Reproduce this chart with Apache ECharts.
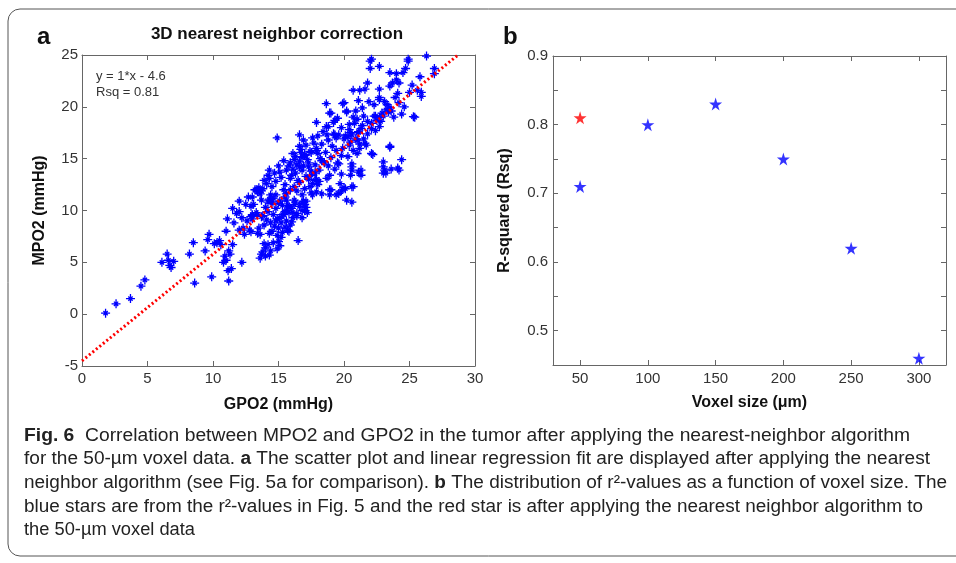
<!DOCTYPE html>
<html>
<head>
<meta charset="utf-8">
<script src="https://cdn.jsdelivr.net/npm/echarts@6/dist/echarts.min.js"></script>
<style>
html,body{margin:0;padding:0;background:#fff;}
#chart{width:956px;height:563px;}
</style>
</head>
<body>
<div id="chart"></div>
<script>
// ---------- DATA ----------
const panelATitle = '3D nearest neighbor correction';
const fitText = ['y = 1*x - 4.6', 'Rsq = 0.81'];
const gpoTicks = [0, 5, 10, 15, 20, 25, 30];
const mpoTicks = [-5, 0, 5, 10, 15, 20, 25];
// scatter points [GPO2, MPO2]
const scatterPoints = [
[1.8,0.1],[2.6,1.0],[3.7,1.5],[4.5,2.7],[4.8,3.3],[6.1,5.0],[6.5,5.8],[6.7,4.7],[6.8,4.5],[7.0,5.1],[6.6,5.2],[8.2,5.8],[8.5,6.9],[8.6,3.0],[9.4,6.1],[9.7,7.7],[9.6,7.2],[9.9,3.6],[10.1,6.8],[10.5,7.1],[10.8,5.0],[10.9,5.6],[11.0,8.0],[11.1,9.2],[11.15,4.2],[11.2,3.2],[11.4,4.4],[11.3,5.8],[11.5,6.7],[11.5,10.2],[11.6,8.8],[11.8,9.7],[12.0,9.9],[12.2,5.0],[12.4,7.7],[12.3,8.3],[12.9,7.95],[12.9,10.4],[13.0,9.2],[13.4,7.8],[13.6,5.4],[13.7,5.8],[14.0,5.6],[14.3,5.7],[13.8,6.0],[13.9,6.8],[10.3,6.9],[10.6,6.7],[11.0,5.2],[11.2,6.1],[12.0,8.1],[13.0,9.5],[13.4,9.6],[13.7,9.4],[12.8,8.1],[13.6,7.7],[13.0,11.3],[13.2,12.0],[13.6,11.6],[13.7,11.9],[14.2,10.8],[14.4,11.5],[14.3,11.1],[14.5,10.9],
[14.0,6.4],[14.4,6.1],[14.6,6.9],[14.9,6.3],[15.1,6.6],[14.2,6.7],[15.0,7.0],
[14.5,8.0],[14.7,8.5],[14.8,9.0],[14.9,7.6],[15.0,8.3],[15.1,9.3],[15.2,8.8],[15.3,7.9],[15.4,9.6],[15.5,8.4],[15.6,9.0],[15.7,8.1],[15.8,9.8],[15.9,8.6],[16.0,10.2],[16.1,9.3],[16.2,10.6],[16.3,10.8],[16.5,7.1],[16.4,9.7],[16.6,10.4],[16.8,10.7],[17.0,10.0],[17.1,10.3],[14.6,9.6],[14.8,10.2],[15.0,10.7],[15.3,10.5],[15.6,11.0],[14.4,8.8],[15.2,7.4],[15.8,8.0],[16.0,8.9],[15.5,9.9],[14.9,9.2],[15.7,10.5],[16.2,11.0],[16.9,10.9],
[14.9,17.0],[16.6,17.3],[16.6,16.2],[17.9,18.5],[18.8,18.1],[19.3,17.3],[20.4,17.8],[20.8,18.4],[21.1,17.5],[21.4,18.2],[20.6,17.3],
[17.5,15.6],[17.9,16.0],[18.0,15.5],[18.3,16.4],[17.7,16.5],[17.0,15.3],[17.2,14.9],[16.8,15.1],
[16.2,14.9],[16.4,14.4],[15.9,14.6],[16.6,14.7],
[15.9,13.1],[16.3,13.6],[16.8,13.9],[17.1,13.3],[17.5,13.8],[17.9,13.0],[16.5,12.9],[17.3,14.2],
[14.3,13.9],[14.2,13.4],[14.3,13.1],[15.1,13.7],
[15.5,12.5],[15.9,12.0],[15.6,11.6],[16.2,12.3],[16.4,11.9],[16.8,11.5],[16.6,12.7],[17.0,12.1],
[13.4,11.8],[13.5,12.2],[13.3,12.0],[13.8,12.1],
[14.6,11.2],[14.5,10.7],[14.8,11.5],
[15.1,10.9],[15.5,11.3],[15.8,10.4],[15.6,10.0],[16.1,9.8],[15.3,9.6],[16.4,9.5],[16.8,9.3],
[17.9,11.8],[18.3,11.6],[18.9,12.0],[19.4,11.5],
[19.7,12.6],[20.0,12.2],[20.6,13.9],[20.5,13.4],[20.1,12.1],[20.2,11.0],
[13.0,9.6],[12.9,9.4],[13.3,9.8],[13.8,9.5],
[23.5,16.1],[22.2,15.4],[24.4,14.9],[23.1,13.9],[23.0,14.2],[23.2,13.6],[24.1,14.1],[24.2,13.9],[20.6,12.3],[20.6,10.8],[21.7,16.3],[21.3,13.4],[21.1,13.7],[19.8,13.5],[20.6,14.2],[20.6,14.5],[19.6,14.5],[19.0,12.0],[19.6,11.65],[18.9,11.5],[18.9,13.4],[17.6,12.6],[17.8,12.9],[18.0,12.5],[18.1,12.8],[17.5,11.7],[17.6,11.5],[16.8,10.0],[17.0,10.6],[17.1,10.9],[17.2,9.8],
[18.7,17.3],[19.2,17.4],[19.6,17.3],[20.1,17.2],[20.5,17.5],[21.1,17.6],
[20.4,16.3],[20.7,15.8],[21.0,15.5],[21.2,16.0],[19.8,15.3],[19.5,14.6],[18.5,14.6],[18.3,14.8],[18.8,14.3],[17.0,15.4],[16.7,15.6],[17.4,15.7],[17.5,13.4],[17.3,13.0],[17.8,13.6],
[22.0,24.4],[22.0,23.7],[22.7,23.9],[23.5,23.3],[24.0,23.2],[24.7,23.7],[24.9,24.4],[26.3,24.9],[25.8,22.9],[23.7,22.3],[24.2,22.3],[21.8,22.3],[20.7,21.6],[21.2,21.6],[21.6,21.7],[22.7,21.7],[24.1,21.3],[25.6,21.6],[25.9,21.0],[21.1,20.6],[19.9,20.3],[22.7,20.7],[23.1,20.5],[23.3,20.2],[23.5,19.9],[23.2,19.7],[23.4,19.5],[23.6,19.6],[24.6,20.0],[25.3,19.05],[20.2,19.5],[19.0,19.4],[19.3,18.7],[21.0,18.8],[21.5,19.1],[21.8,18.6],[22.3,19.1],[22.7,19.0],[22.9,19.4],[23.0,19.1],[22.5,18.7],[22.1,18.4],[22.1,17.9],[22.7,18.1],[19.4,17.0],[20.0,16.9],[20.3,17.1],[20.5,16.6],[21.0,16.8],[21.2,16.4],[21.6,16.5],[21.5,16.9],[23.5,16.2],[26.9,23.7],[26.9,23.2],[23.0,14.7],[23.6,14.0],[23.0,13.6],[22.1,15.5],[20.7,12.3],[19.8,11.9],[21.3,13.9],[18.65,20.3],[18.9,19.4],[18.65,18.1],[19.2,18.5],[20.0,20.4],[20.2,19.6],[20.7,19.0],[22.4,19.1],[23.5,22.0],[24.0,22.6],[24.5,23.3],[25.9,21.4],[25.4,19.0],[22.7,20.9],[24.9,24.6],[22.1,24.6],
[17.9,15.8],[16.9,16.8],[16.1,15.5],[16.6,14.2],
[14.5,12.3],[14.8,12.8],[15.2,13.2],[15.6,13.9],[15.8,14.3],[16.1,14.0],[16.3,15.2],[16.7,15.9],[17.1,16.3],[17.6,17.0],[18.0,17.2],[18.4,17.6],[18.8,16.8],[19.1,16.2],[19.4,15.8],[19.0,15.1],[18.6,15.6],[18.2,15.0],[17.8,14.4],[17.3,14.6],[16.9,14.3],[15.4,14.8],[15.0,14.3],[14.7,13.6],[14.1,12.6],[13.9,12.9],[13.7,11.0],[14.0,10.3],[14.2,9.9],[14.1,9.1],[13.9,8.6],[14.3,7.8],[13.5,8.3],[12.6,9.0],[12.2,9.3],[12.5,10.6],[12.0,10.9],[12.7,11.3],[13.1,10.6],[15.4,12.0],[16.0,13.4],[17.4,12.3],[18.1,13.9],[18.7,13.1],[19.3,14.0],[19.9,16.0],[20.3,15.2],[20.9,16.9],[21.3,17.9],[21.8,17.4],[22.4,17.7],[22.8,18.6],[23.8,19.0],[24.2,20.4],[24.4,19.3],[25.0,21.4],[25.2,22.1],[23.9,20.9],[22.3,20.2],[21.9,20.5],[21.4,19.9],[20.9,19.6],[20.4,18.3],[19.8,18.0],[19.5,18.9]
];
// fitted regression line endpoints [GPO2, MPO2]
const fitLine = [[0, -4.5], [28.7, 25]];

const voxelSizes = [50, 100, 150, 200, 250, 300];
const rsqBlue = [0.71, 0.80, 0.83, 0.75, 0.62, 0.46];
const rsqRed = [[50, 0.81]];
const voxelTicks = [50, 100, 150, 200, 250, 300];
const rsqLabels = [0.5, 0.6, 0.7, 0.8, 0.9];

const captionLines = [
  [['b','Fig. 6'],['n','  Correlation between MPO2 and GPO2 in the tumor after applying the nearest-neighbor algorithm']],
  [['n','for the 50-\u00b5m voxel data. '],['b','a'],['n',' The scatter plot and linear regression fit are displayed after applying the nearest']],
  [['n','neighbor algorithm (see Fig. '],['l','5'],['n','a for comparison). '],['b','b'],['n',' The distribution of r\u00b2-values as a function of voxel size. The']],
  [['n','blue stars are from the r\u00b2-values in Fig. '],['l','5'],['n',' and the red star is after applying the nearest neighbor algorithm to']],
  [['n','the 50-\u00b5m voxel data']]
];
// right edge of each caption line in the reference (layout)
const captionRight = [910, 930, 947, 923, 195];

// ---------- CHART ----------
const FONT = '"Liberation Sans", Arial, sans-serif';
const axisColor = '#666';
const labelColor = '#333';
const asterisk = 'path://M0,5L10,5M5,0L5,10M2.6,2.6L7.4,7.4M7.4,2.6L2.6,7.4';
const star = 'path://M50,0L61,35L98,35L68,57L79,91L50,70L21,91L32,57L2,35L39,35Z';

const capSize = 17.5;
const capLeft = 24;
const ctx = document.createElement('canvas').getContext('2d');
function segWidth(seg){
  ctx.font = (seg[0]==='b' ? 'bold ' : '') + capSize + 'px ' + FONT;
  return ctx.measureText(seg[1]).width;
}

function axisCommon(extra){
  return Object.assign({
    axisLine:{show:true,onZero:false,lineStyle:{color:axisColor,width:1}},
    axisTick:{show:true,inside:true,length:5,lineStyle:{color:axisColor}},
    splitLine:{show:false},
    axisLabel:{color:labelColor,fontSize:15,fontFamily:FONT}
  }, extra);
}

const captionGraphics = captionLines.map((segs,i)=>{
  const w = segs.reduce((s,g)=>s+segWidth(g),0);
  const sc = (captionRight[i]-capLeft)/w;
  return {
    type:'text', x:capLeft, y:436 + i*23.6, scaleX: sc,
    style:{
      text: segs.map(s=>'{'+s[0]+'|'+s[1]+'}').join(''),
      fontFamily: FONT, fontSize: capSize, fill:'#222', verticalAlign:'middle',
      rich:{
        n:{fontFamily:FONT,fontSize:capSize,color:'#222'},
        b:{fontFamily:FONT,fontSize:capSize,fontWeight:'bold',color:'#111'},
        l:{fontFamily:FONT,fontSize:capSize,color:'#2a55c9'}
      }
    }
  };
});

const option = {
  animation:false,
  backgroundColor:'#fff',
  grid:[
    {left:82, top:55, width:393, height:311},
    {left:553, top:56, width:393, height:309}
  ],
  xAxis:[
    axisCommon({gridIndex:0,type:'value',min:gpoTicks[0],max:gpoTicks[gpoTicks.length-1],interval:5,
      axisLabel:{color:labelColor,fontSize:15,fontFamily:FONT,margin:5},
      name:'GPO2 (mmHg)',nameLocation:'middle',nameGap:31,
      nameTextStyle:{fontFamily:FONT,fontSize:16,fontWeight:'bold',color:'#111'}}),
    axisCommon({gridIndex:0,type:'value',position:'top',min:0,max:30,interval:5,axisLabel:{show:false}}),
    axisCommon({gridIndex:1,type:'value',min:30,max:320,
      axisTick:{show:true,inside:true,length:5,lineStyle:{color:axisColor},customValues:voxelTicks},
      axisLabel:{color:labelColor,fontSize:15,fontFamily:FONT,margin:6,customValues:voxelTicks},
      name:'Voxel size (\u03bcm)',nameLocation:'middle',nameGap:30,
      nameTextStyle:{fontFamily:FONT,fontSize:16,fontWeight:'bold',color:'#111'}}),
    axisCommon({gridIndex:1,type:'value',position:'top',min:30,max:320,
      axisTick:{show:true,inside:true,length:5,lineStyle:{color:axisColor},customValues:voxelTicks},
      axisLabel:{show:false}})
  ],
  yAxis:[
    axisCommon({gridIndex:0,type:'value',min:mpoTicks[0],max:mpoTicks[mpoTicks.length-1],interval:5,
      axisLabel:{color:labelColor,fontSize:15,fontFamily:FONT,margin:4},
      name:'MPO2 (mmHg)',nameLocation:'middle',nameGap:34,
      nameTextStyle:{fontFamily:FONT,fontSize:16,fontWeight:'bold',color:'#111'}}),
    axisCommon({gridIndex:0,type:'value',position:'right',min:-5,max:25,interval:5,axisLabel:{show:false}}),
    axisCommon({gridIndex:1,type:'value',min:0.45,max:0.9,interval:0.05,
      axisLabel:{color:labelColor,fontSize:15,fontFamily:FONT,margin:5,customValues:rsqLabels,
        formatter:v=>v.toFixed(1)},
      name:'R-squared (Rsq)',nameLocation:'middle',nameGap:40,
      nameTextStyle:{fontFamily:FONT,fontSize:16,fontWeight:'bold',color:'#111'}}),
    axisCommon({gridIndex:1,type:'value',position:'right',min:0.45,max:0.9,interval:0.05,axisLabel:{show:false}})
  ],
  series:[
    {type:'line',xAxisIndex:0,yAxisIndex:0,data:fitLine,symbol:'none',silent:true,z:3,
      lineStyle:{color:'#ff0000',width:3,type:[2,2.5]}},
    {type:'scatter',xAxisIndex:0,yAxisIndex:0,data:scatterPoints,symbol:asterisk,symbolSize:9,z:2,
      itemStyle:{color:'rgba(0,0,255,0)',borderColor:'#0000ff',borderWidth:1.3,opacity:1}},
    {type:'scatter',xAxisIndex:2,yAxisIndex:2,data:voxelSizes.map((v,i)=>[v,rsqBlue[i]]),symbol:star,symbolSize:13,
      itemStyle:{color:'#0000ff'}},
    {type:'scatter',xAxisIndex:2,yAxisIndex:2,data:rsqRed,symbol:star,symbolSize:13,
      itemStyle:{color:'#ff0000'}}
  ],
  graphic:[
    {type:'rect',shape:{x:8,y:9,width:970,height:547,r:12},style:{fill:'none',stroke:'#555',lineWidth:1},silent:true},
    {type:'text',x:37,y:37,style:{text:'a',fontFamily:FONT,fontSize:24,fontWeight:'bold',fill:'#111',verticalAlign:'middle'}},
    {type:'text',x:503,y:37,style:{text:'b',fontFamily:FONT,fontSize:24,fontWeight:'bold',fill:'#111',verticalAlign:'middle'}},
    {type:'text',x:277,y:34,style:{text:panelATitle,fontFamily:FONT,fontSize:17,fontWeight:'bold',fill:'#111',align:'center',verticalAlign:'middle'}},
    {type:'text',x:96,y:76,style:{text:fitText[0],fontFamily:FONT,fontSize:13,fill:'#333',verticalAlign:'middle'}},
    {type:'text',x:96,y:92,style:{text:fitText[1],fontFamily:FONT,fontSize:13,fill:'#333',verticalAlign:'middle'}}
  ].concat(captionGraphics)
};

const chart = echarts.init(document.getElementById('chart'), null, {renderer:'canvas'});
chart.setOption(option);
</script>
</body>
</html>
